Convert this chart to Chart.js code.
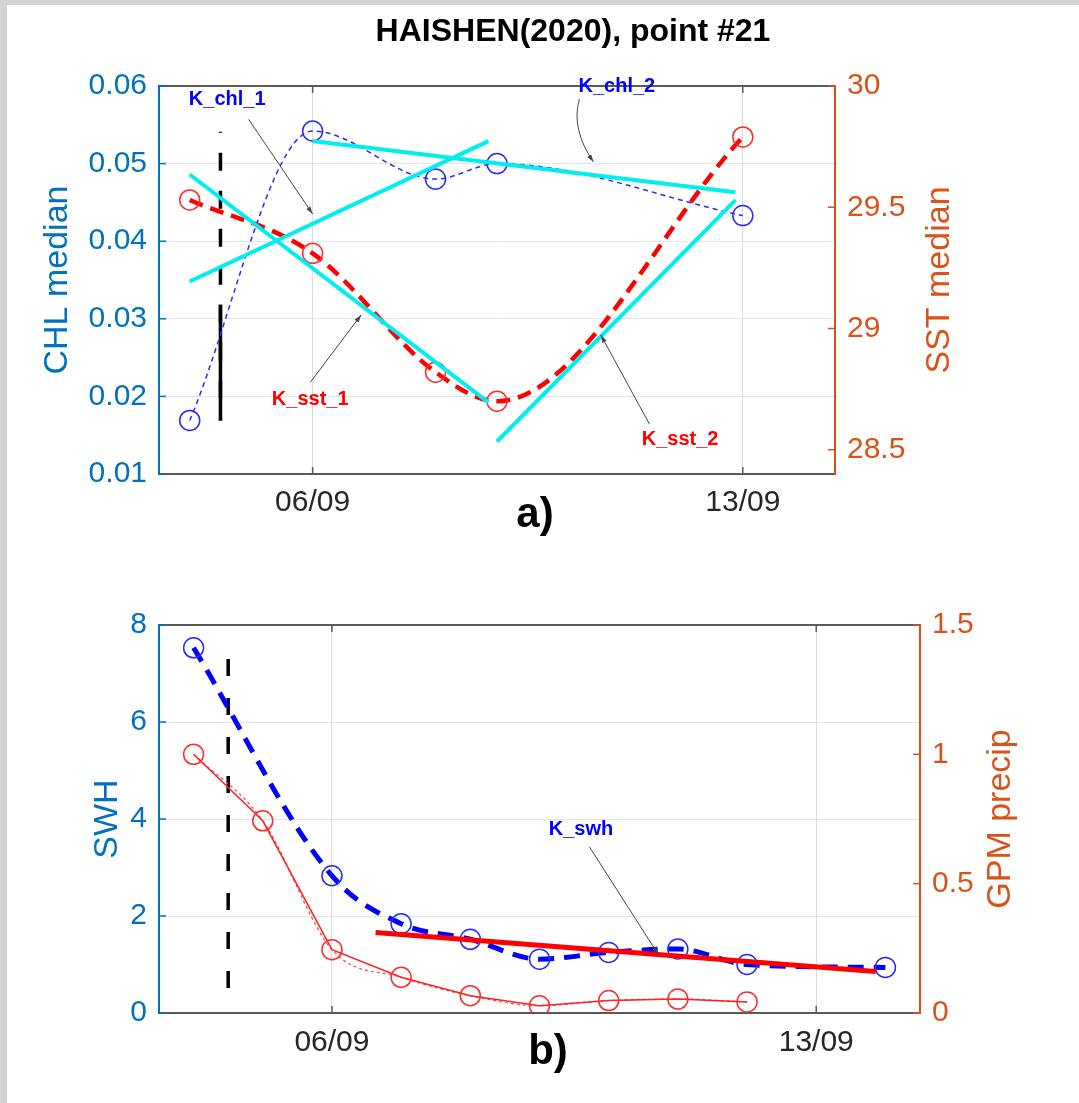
<!DOCTYPE html>
<html>
<head>
<meta charset="utf-8">
<title>HAISHEN(2020), point #21</title>
<script src="https://cdn.jsdelivr.net/npm/chart.js@4.4.1/dist/chart.umd.min.js"></script>
<style>
  html, body { margin: 0; padding: 0; background: #fff; }
  body { width: 1079px; height: 1103px; position: relative; overflow: hidden; }
  .edge { position: absolute; background: #d3d3d3; }
  .wrap { position: absolute; left: 0; width: 1079px; }
</style>
</head>
<body>
<div class="edge" style="left:0;top:0;width:7px;height:1103px"></div>
<div class="edge" style="left:0;top:0;width:1079px;height:5px"></div>
<div class="wrap" style="top:0;height:560px"><canvas id="chartA"></canvas></div>
<div class="wrap" style="top:560px;height:543px"><canvas id="chartB"></canvas></div>

<script>
// ---- data (x = day of September 2020) ----
const xTickVals = [6, 13];
const xTickLabels = ["06/09", "13/09"];

// panel a)
const chlDays = [4, 6, 8, 9, 13];
const chlVals = [0.0169, 0.0542, 0.0480, 0.0500, 0.0433];
const sstDays = [4, 6, 8, 9, 13];
const sstVals = [29.53, 29.31, 28.82, 28.70, 29.79];
const kChl1Days = [4.0, 8.86];
const kChl1Vals = [0.0348, 0.0529];
const kChl2Days = [6.0, 12.88];
const kChl2Vals = [0.0529, 0.0463];
const kSst1Days = [4.0, 8.86];
const kSst1Vals = [29.635, 28.695];
const kSst2Days = [9.0, 12.88];
const kSst2Vals = [28.534, 29.529];
const chlTicks = [0.01, 0.02, 0.03, 0.04, 0.05, 0.06];
const sstTicks = [28.5, 29, 29.5, 30];

// panel b)
const swhDays = [4, 6, 7, 8, 9, 10, 11, 12, 14];
const swhVals = [7.53, 2.83, 1.84, 1.52, 1.11, 1.25, 1.32, 1.00, 0.94];
const gpmDays = [4, 5, 6, 7, 8, 9, 10, 11, 12];
const gpmVals = [1.0, 0.743, 0.245, 0.138, 0.067, 0.028, 0.048, 0.054, 0.043];
const kSwhDays = [6.63, 13.86];
const kSwhVals = [1.66, 0.857];
const swhTicks = [0, 2, 4, 6, 8];
const gpmTicks = [0, 0.5, 1, 1.5];

// typhoon passage marker
const passDay = 4.5;

const FONT = "'Liberation Sans', Arial, Helvetica, sans-serif";
const BLUE_AX = "#0072BD";
const ORANGE_AX = "#D95319";
const BOX = "#5a5a5a";
const CYAN = "#00eeee";
const TICK_SIZE = 30;

const pts = (xs, ys) => xs.map((x, i) => ({ x: x, y: ys[i] }));

// draws title, panel label, axis titles, inner tick marks and arrows
const overlay = {
  id: "overlay",
  afterDraw(chart, args, o) {
    const { ctx, chartArea: a, scales } = chart;
    const sx = scales.x, yl = scales.yL, yr = scales.yR;
    ctx.save();

    // top edge of the box
    ctx.strokeStyle = BOX;
    ctx.lineWidth = 2;
    ctx.beginPath();
    ctx.moveTo(a.left, a.top);
    ctx.lineTo(a.right, a.top);
    ctx.stroke();

    // tick marks pointing inside
    ctx.lineWidth = 1.5;
    ctx.strokeStyle = BOX;
    xTickVals.forEach((v) => {
      const p = sx.getPixelForValue(v);
      ctx.beginPath();
      ctx.moveTo(p, a.bottom); ctx.lineTo(p, a.bottom - 7);
      ctx.moveTo(p, a.top); ctx.lineTo(p, a.top + 7);
      ctx.stroke();
    });
    ctx.strokeStyle = BLUE_AX;
    o.leftTicks.forEach((v) => {
      const p = yl.getPixelForValue(v);
      ctx.beginPath(); ctx.moveTo(a.left, p); ctx.lineTo(a.left + 7, p); ctx.stroke();
    });
    ctx.strokeStyle = ORANGE_AX;
    o.rightTicks.forEach((v) => {
      const p = yr.getPixelForValue(v);
      ctx.beginPath(); ctx.moveTo(a.right, p); ctx.lineTo(a.right - 7, p); ctx.stroke();
    });

    // annotation arrows + labels
    o.notes.forEach((n) => {
      const tx = sx.getPixelForValue(n.at[0]), ty = yl.getPixelForValue(n.at[1]);
      const x0 = sx.getPixelForValue(n.from[0]), y0 = yl.getPixelForValue(n.from[1]);
      const x1 = sx.getPixelForValue(n.to[0]), y1 = yl.getPixelForValue(n.to[1]);
      ctx.strokeStyle = "#444";
      ctx.fillStyle = "#444";
      ctx.lineWidth = 1;
      ctx.beginPath();
      ctx.moveTo(x0, y0);
      let ang;
      if (n.via) {
        const cx = sx.getPixelForValue(n.via[0]), cy = yl.getPixelForValue(n.via[1]);
        ctx.quadraticCurveTo(cx, cy, x1, y1);
        ang = Math.atan2(y1 - cy, x1 - cx);
      } else {
        ctx.lineTo(x1, y1);
        ang = Math.atan2(y1 - y0, x1 - x0);
      }
      ctx.stroke();
      ctx.beginPath();
      ctx.moveTo(x1, y1);
      ctx.lineTo(x1 - 8 * Math.cos(ang - 0.3), y1 - 8 * Math.sin(ang - 0.3));
      ctx.lineTo(x1 - 8 * Math.cos(ang + 0.3), y1 - 8 * Math.sin(ang + 0.3));
      ctx.closePath();
      ctx.fill();
      ctx.fillStyle = n.color;
      ctx.font = "bold 20px " + FONT;
      ctx.textAlign = "center";
      ctx.textBaseline = "middle";
      ctx.fillText(n.text, tx, ty);
    });

    // titles
    ctx.textAlign = "center";
    ctx.textBaseline = "middle";
    if (o.title) {
      ctx.fillStyle = "#000";
      ctx.font = "bold 32px " + FONT;
      ctx.fillText(o.title, o.titlePos[0], o.titlePos[1]);
    }
    ctx.fillStyle = "#000";
    ctx.font = "bold 42px " + FONT;
    ctx.fillText(o.panel, o.panelPos[0], o.panelPos[1]);

    ctx.font = "34px " + FONT;
    const mid = (a.top + a.bottom) / 2;
    [[o.leftTitle, a.left - o.leftOff, BLUE_AX], [o.rightTitle, a.right + o.rightOff, ORANGE_AX]].forEach((t) => {
      ctx.save();
      ctx.translate(t[1], mid);
      ctx.rotate(-Math.PI / 2);
      ctx.fillStyle = t[2];
      ctx.fillText(t[0], 0, 0);
      ctx.restore();
    });
    ctx.restore();
  },
};

function makeScales(leftTicks, leftMin, leftMax, rightTicks, rightMin, rightMax, fmtL, fmtR, box) {
  return {
    x: {
      type: "linear",
      min: 3.5,
      max: 14.5,
      afterBuildTicks: (s) => { s.ticks = xTickVals.map((v) => ({ value: v })); },
      afterFit: (s) => { s.height = box.xh; },
      grid: { color: "#dcdcdc", lineWidth: 1, drawTicks: false },
      border: { color: BOX, width: 2 },
      ticks: {
        color: "#262626",
        font: { family: FONT, size: TICK_SIZE },
        padding: box.xpad,
        maxRotation: 0,
        autoSkip: false,
        callback: (v) => xTickLabels[xTickVals.indexOf(v)] || "",
      },
    },
    yL: {
      type: "linear",
      position: "left",
      min: leftMin,
      max: leftMax,
      afterBuildTicks: (s) => { s.ticks = leftTicks.map((v) => ({ value: v })); },
      afterFit: (s) => { s.width = box.lw; },
      grid: { color: "#dbe8f3", lineWidth: 1, drawTicks: false },
      border: { color: BLUE_AX, width: 2 },
      ticks: { color: BLUE_AX, font: { family: FONT, size: TICK_SIZE }, padding: 12, callback: fmtL },
    },
    yR: {
      type: "linear",
      position: "right",
      min: rightMin,
      max: rightMax,
      afterBuildTicks: (s) => { s.ticks = rightTicks.map((v) => ({ value: v })); },
      afterFit: (s) => { s.width = box.rw; },
      grid: { drawOnChartArea: false, drawTicks: false },
      border: { color: ORANGE_AX, width: 2 },
      ticks: { color: ORANGE_AX, font: { family: FONT, size: TICK_SIZE }, padding: 12, callback: fmtR },
    },
  };
}

const baseOpts = {
  responsive: true,
  maintainAspectRatio: false,
  animation: false,
  devicePixelRatio: 1,
  events: [],
};

// ---- panel a) ----
new Chart(document.getElementById("chartA"), {
  type: "line",
  data: {
    datasets: [
      { data: pts(kChl1Days, kChl1Vals), yAxisID: "yL", borderColor: CYAN, borderWidth: 4, pointRadius: 0 },
      { data: pts(kChl2Days, kChl2Vals), yAxisID: "yL", borderColor: CYAN, borderWidth: 4, pointRadius: 0 },
      { data: pts(kSst1Days, kSst1Vals), yAxisID: "yR", borderColor: CYAN, borderWidth: 4, pointRadius: 0 },
      { data: pts(kSst2Days, kSst2Vals), yAxisID: "yR", borderColor: CYAN, borderWidth: 4, pointRadius: 0 },
      {
        label: "CHL median",
        data: pts(chlDays, chlVals),
        yAxisID: "yL",
        borderColor: "#2a2aff",
        borderWidth: 1.5,
        borderDash: [5, 4],
        cubicInterpolationMode: "monotone",
        pointRadius: 10,
        pointBorderWidth: 1.5,
        pointBorderColor: "#2a2aff",
        pointBackgroundColor: "rgba(0,0,0,0)",
      },
      {
        label: "SST median",
        data: pts(sstDays, sstVals),
        yAxisID: "yR",
        borderColor: "#ff0000",
        borderWidth: 4.5,
        borderDash: [14, 8],
        cubicInterpolationMode: "monotone",
        pointRadius: 10,
        pointBorderWidth: 1.5,
        pointBorderColor: "#ff2a2a",
        pointBackgroundColor: "rgba(0,0,0,0)",
      },
      {
        data: pts([passDay, passDay], [chlVals[1] - 0.0001, chlVals[0]]),
        yAxisID: "yL",
        borderColor: "#000",
        borderWidth: 3.5,
        borderDash: [18, 20],
        borderDashOffset: 17,
        pointRadius: 0,
      },
      {
        data: pts([passDay, passDay], [0.0318, chlVals[0]]),
        yAxisID: "yL",
        borderColor: "#000",
        borderWidth: 3.5,
        pointRadius: 0,
      },
    ],
  },
  options: Object.assign({}, baseOpts, {
    layout: { padding: { top: 86, left: 0, right: 0, bottom: 0 } },
    scales: makeScales(chlTicks, 0.01, 0.06, sstTicks, 28.4, 30,
      (v) => v.toFixed(2), (v) => String(v), { xh: 86, xpad: 11, lw: 159, rw: 244 }),
    plugins: {
      legend: { display: false },
      tooltip: { enabled: false },
      overlay: {
        title: "HAISHEN(2020), point #21",
        titlePos: [573, 32],
        panel: "a)",
        panelPos: [535, 515],
        leftTitle: "CHL median",
        leftOff: 101,
        rightTitle: "SST median",
        rightOff: 105,
        leftTicks: chlTicks,
        rightTicks: sstTicks,
        notes: [
          { text: "K_chl_1", color: "#0000ff", at: [4.61, 0.0583], from: [4.96, 0.0557], to: [6.0, 0.0435] },
          { text: "K_chl_2", color: "#0000ff", at: [10.95, 0.0599], from: [10.34, 0.0583], via: [10.2, 0.0545], to: [10.57, 0.0502] },
          { text: "K_sst_1", color: "#ff0000", at: [5.96, 0.0196], from: [5.96, 0.0218], to: [6.79, 0.0305] },
          { text: "K_sst_2", color: "#ff0000", at: [11.98, 0.01447], from: [11.48, 0.01644], to: [10.69, 0.0279] },
        ],
      },
    },
  }),
  plugins: [overlay],
});

// ---- panel b) ----
new Chart(document.getElementById("chartB"), {
  type: "line",
  data: {
    datasets: [
      { data: pts(kSwhDays, kSwhVals), yAxisID: "yL", borderColor: "#ff0000", borderWidth: 5, pointRadius: 0 },
      {
        label: "SWH",
        data: pts(swhDays, swhVals),
        yAxisID: "yL",
        borderColor: "#0000ff",
        borderWidth: 5,
        borderDash: [16, 10],
        cubicInterpolationMode: "monotone",
        pointRadius: 10,
        pointBorderWidth: 1.5,
        pointBorderColor: "#2a2aff",
        pointBackgroundColor: "rgba(0,0,0,0)",
      },
      {
        label: "GPM precip",
        data: pts(gpmDays, gpmVals),
        yAxisID: "yR",
        borderColor: "#ff2020",
        borderWidth: 1.5,
        pointRadius: 10,
        pointBorderWidth: 1.5,
        pointBorderColor: "#ff2a2a",
        pointBackgroundColor: "rgba(0,0,0,0)",
      },
      {
        data: pts(gpmDays, gpmVals),
        yAxisID: "yR",
        borderColor: "#ff4040",
        borderWidth: 1.2,
        borderDash: [3, 3],
        cubicInterpolationMode: "monotone",
        pointRadius: 0,
      },
      {
        data: pts([passDay, passDay], [7.3, 0.17]),
        yAxisID: "yL",
        borderColor: "#000",
        borderWidth: 3.5,
        borderDash: [17, 22],
        pointRadius: 0,
      },
    ],
  },
  options: Object.assign({}, baseOpts, {
    layout: { padding: { top: 65, left: 0, right: 0, bottom: 0 } },
    scales: makeScales(swhTicks, 0, 8, gpmTicks, 0, 1.5,
      (v) => String(v), (v) => String(v), { xh: 90, xpad: 12, lw: 159, rw: 159 }),
    plugins: {
      legend: { display: false },
      tooltip: { enabled: false },
      overlay: {
        title: "",
        panel: "b)",
        panelPos: [548, 492],
        leftTitle: "SWH",
        leftOff: 51,
        rightTitle: "GPM precip",
        rightOff: 81,
        leftTicks: swhTicks,
        rightTicks: gpmTicks,
        notes: [
          { text: "K_swh", color: "#0000ff", at: [9.6, 3.78], from: [9.72, 3.43], to: [10.72, 1.2] },
        ],
      },
    },
  }),
  plugins: [overlay],
});
</script>
</body>
</html>
